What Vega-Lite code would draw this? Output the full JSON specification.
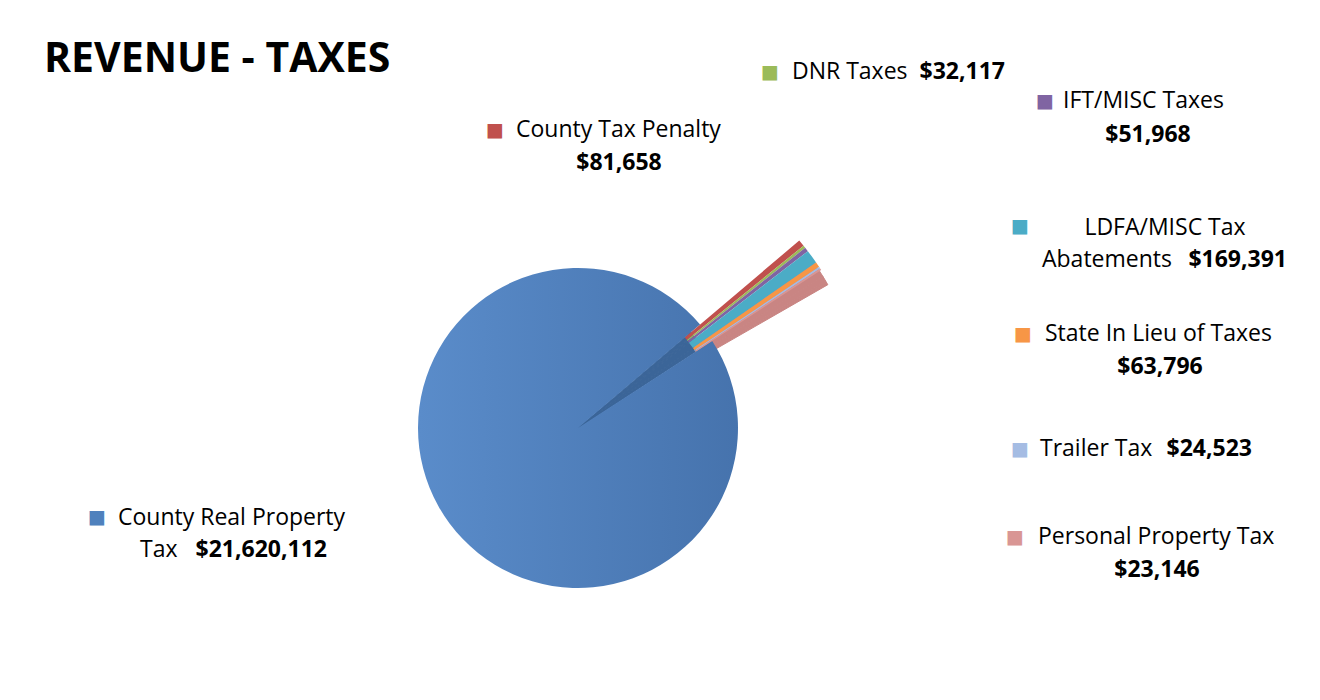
{
  "$schema": "https://vega.github.io/schema/vega-lite/v6.json",
  "autosize": "none",
  "width": 1156,
  "height": 540,
  "padding": {"left": 0, "top": 158, "right": 164, "bottom": 2},
  "background": "white",
  "title": {"text": "REVENUE - TAXES", "anchor": "start", "frame": "group", "font": "Open Sans", "fontSize": 41, "fontWeight": "bold", "color": "black", "dx": 44, "dy": 20, "offset": 0},
  "config": {
    "view": {"stroke": null},
    "text": {"font": "Open Sans", "fontSize": 23, "baseline": "middle", "color": "black"}
  },
  "resolve": {"scale": {"theta": "independent"}},
  "data": {"values": [
    {"category": "County Real Property Tax", "value": 21620112, "rank": 1},
    {"category": "County Tax Penalty", "value": 81658, "rank": 2},
    {"category": "DNR Taxes", "value": 32117, "rank": 3},
    {"category": "IFT/MISC Taxes", "value": 51968, "rank": 4},
    {"category": "LDFA/MISC Tax Abatements", "value": 169391, "rank": 5},
    {"category": "State In Lieu of Taxes", "value": 63796, "rank": 6},
    {"category": "Trailer Tax", "value": 24523, "rank": 7},
    {"category": "Personal Property Tax", "value": 23146, "rank": 8}
  ]},
  "layer": [
    {
      "mark": {"type": "arc", "outerRadius": 148, "fill": "#3B6598", "stroke": "#3B6598", "strokeWidth": 1},
      "encoding": {
        "theta": {"field": "value", "type": "quantitative", "stack": true, "scale": {"range": [0.995, 7.2782]}},
        "order": {"field": "rank", "type": "quantitative"},
        "opacity": {"condition": {"test": "datum.rank == 1", "value": 0}, "value": 1}
      }
    },
    {
      "mark": {"type": "arc", "innerRadius": 142, "outerRadius": 288, "fill": "#C98583", "stroke": "#C98583", "strokeWidth": 1},
      "encoding": {
        "theta": {"field": "value", "type": "quantitative", "stack": true, "scale": {"range": [1.05, 7.3332]}},
        "order": {"field": "rank", "type": "quantitative"},
        "opacity": {"condition": {"test": "datum.rank == 1", "value": 0}, "value": 1}
      }
    },
    {
      "mark": {"type": "arc", "outerRadius": 160, "fill": {"gradient": "linear", "x1": 0, "y1": 0, "x2": 1, "y2": 0, "stops": [{"offset": 0, "color": "#5A8CCA"}, {"offset": 1, "color": "#4673AD"}]}},
      "encoding": {
        "theta": {"field": "value", "type": "quantitative", "stack": true, "scale": {"range": [0.995, 7.2782]}},
        "order": {"field": "rank", "type": "quantitative"},
        "opacity": {"condition": {"test": "datum.rank == 1", "value": 1}, "value": 0}
      }
    },
    {
      "mark": {"type": "arc", "innerRadius": 140, "outerRadius": 290},
      "encoding": {
        "theta": {"field": "value", "type": "quantitative", "stack": true, "scale": {"range": [0.995, 7.2782]}},
        "order": {"field": "rank", "type": "quantitative"},
        "color": {"field": "category", "type": "nominal", "legend": null, "scale": {
          "domain": ["County Real Property Tax", "County Tax Penalty", "DNR Taxes", "IFT/MISC Taxes", "LDFA/MISC Tax Abatements", "State In Lieu of Taxes", "Trailer Tax", "Personal Property Tax"],
          "range": ["#4F81BD", "#C0504D", "#9BBB59", "#8064A2", "#4BACC6", "#F79646", "#A5BCE3", "#D99694"]}},
        "opacity": {"condition": {"test": "datum.rank == 1", "value": 0}, "value": 1}
      }
    },
    {"transform": [{"filter": "datum.rank == 1"}], "mark": {"type": "text", "text": "■", "font": "DejaVu Sans", "fontSize": 19, "align": "center", "dx": -481, "dy": 89}, "encoding": {"color": {"field": "category", "type": "nominal", "legend": null}}},
    {"transform": [{"filter": "datum.rank == 2"}], "mark": {"type": "text", "text": "■", "font": "DejaVu Sans", "fontSize": 19, "align": "center", "dx": -83, "dy": -298}, "encoding": {"color": {"field": "category", "type": "nominal", "legend": null}}},
    {"transform": [{"filter": "datum.rank == 3"}], "mark": {"type": "text", "text": "■", "font": "DejaVu Sans", "fontSize": 19, "align": "center", "dx": 192, "dy": -356}, "encoding": {"color": {"field": "category", "type": "nominal", "legend": null}}},
    {"transform": [{"filter": "datum.rank == 4"}], "mark": {"type": "text", "text": "■", "font": "DejaVu Sans", "fontSize": 19, "align": "center", "dx": 467, "dy": -327}, "encoding": {"color": {"field": "category", "type": "nominal", "legend": null}}},
    {"transform": [{"filter": "datum.rank == 5"}], "mark": {"type": "text", "text": "■", "font": "DejaVu Sans", "fontSize": 19, "align": "center", "dx": 442, "dy": -202}, "encoding": {"color": {"field": "category", "type": "nominal", "legend": null}}},
    {"transform": [{"filter": "datum.rank == 6"}], "mark": {"type": "text", "text": "■", "font": "DejaVu Sans", "fontSize": 19, "align": "center", "dx": 445, "dy": -94}, "encoding": {"color": {"field": "category", "type": "nominal", "legend": null}}},
    {"transform": [{"filter": "datum.rank == 7"}], "mark": {"type": "text", "text": "■", "font": "DejaVu Sans", "fontSize": 19, "align": "center", "dx": 442, "dy": 21}, "encoding": {"color": {"field": "category", "type": "nominal", "legend": null}}},
    {"transform": [{"filter": "datum.rank == 8"}], "mark": {"type": "text", "text": "■", "font": "DejaVu Sans", "fontSize": 19, "align": "center", "dx": 437, "dy": 109}, "encoding": {"color": {"field": "category", "type": "nominal", "legend": null}}},

    {"transform": [{"filter": "datum.rank == 1"}], "mark": {"type": "text", "align": "left", "dx": -460, "dy": 90}, "encoding": {"text": {"value": "County Real Property"}}},
    {"transform": [{"filter": "datum.rank == 1"}], "mark": {"type": "text", "align": "left", "dx": -438, "dy": 122}, "encoding": {"text": {"value": "Tax"}}},
    {"transform": [{"filter": "datum.rank == 2"}], "mark": {"type": "text", "align": "left", "dx": -62, "dy": -298}, "encoding": {"text": {"field": "category"}}},
    {"transform": [{"filter": "datum.rank == 3"}], "mark": {"type": "text", "align": "left", "dx": 214, "dy": -356}, "encoding": {"text": {"field": "category"}}},
    {"transform": [{"filter": "datum.rank == 4"}], "mark": {"type": "text", "align": "left", "dx": 485, "dy": -327}, "encoding": {"text": {"field": "category"}}},
    {"transform": [{"filter": "datum.rank == 5"}], "mark": {"type": "text", "align": "center", "dx": 587, "dy": -200}, "encoding": {"text": {"value": "LDFA/MISC Tax"}}},
    {"transform": [{"filter": "datum.rank == 5"}], "mark": {"type": "text", "align": "left", "dx": 464, "dy": -168}, "encoding": {"text": {"value": "Abatements"}}},
    {"transform": [{"filter": "datum.rank == 6"}], "mark": {"type": "text", "align": "left", "dx": 467, "dy": -94}, "encoding": {"text": {"field": "category"}}},
    {"transform": [{"filter": "datum.rank == 7"}], "mark": {"type": "text", "align": "left", "dx": 462, "dy": 21}, "encoding": {"text": {"field": "category"}}},
    {"transform": [{"filter": "datum.rank == 8"}], "mark": {"type": "text", "align": "left", "dx": 460, "dy": 109}, "encoding": {"text": {"field": "category"}}},

    {"transform": [{"filter": "datum.rank == 1"}], "mark": {"type": "text", "align": "right", "fontWeight": "bold", "dx": -251, "dy": 122}, "encoding": {"text": {"field": "value", "type": "quantitative", "format": "$,.0f"}}},
    {"transform": [{"filter": "datum.rank == 2"}], "mark": {"type": "text", "align": "center", "fontWeight": "bold", "dx": 41, "dy": -265}, "encoding": {"text": {"field": "value", "type": "quantitative", "format": "$,.0f"}}},
    {"transform": [{"filter": "datum.rank == 3"}], "mark": {"type": "text", "align": "right", "fontWeight": "bold", "dx": 427, "dy": -356}, "encoding": {"text": {"field": "value", "type": "quantitative", "format": "$,.0f"}}},
    {"transform": [{"filter": "datum.rank == 4"}], "mark": {"type": "text", "align": "center", "fontWeight": "bold", "dx": 570, "dy": -293}, "encoding": {"text": {"field": "value", "type": "quantitative", "format": "$,.0f"}}},
    {"transform": [{"filter": "datum.rank == 5"}], "mark": {"type": "text", "align": "right", "fontWeight": "bold", "dx": 709, "dy": -168}, "encoding": {"text": {"field": "value", "type": "quantitative", "format": "$,.0f"}}},
    {"transform": [{"filter": "datum.rank == 6"}], "mark": {"type": "text", "align": "center", "fontWeight": "bold", "dx": 582, "dy": -61}, "encoding": {"text": {"field": "value", "type": "quantitative", "format": "$,.0f"}}},
    {"transform": [{"filter": "datum.rank == 7"}], "mark": {"type": "text", "align": "right", "fontWeight": "bold", "dx": 674, "dy": 21}, "encoding": {"text": {"field": "value", "type": "quantitative", "format": "$,.0f"}}},
    {"transform": [{"filter": "datum.rank == 8"}], "mark": {"type": "text", "align": "center", "fontWeight": "bold", "dx": 579, "dy": 142}, "encoding": {"text": {"field": "value", "type": "quantitative", "format": "$,.0f"}}}
  ]
}
